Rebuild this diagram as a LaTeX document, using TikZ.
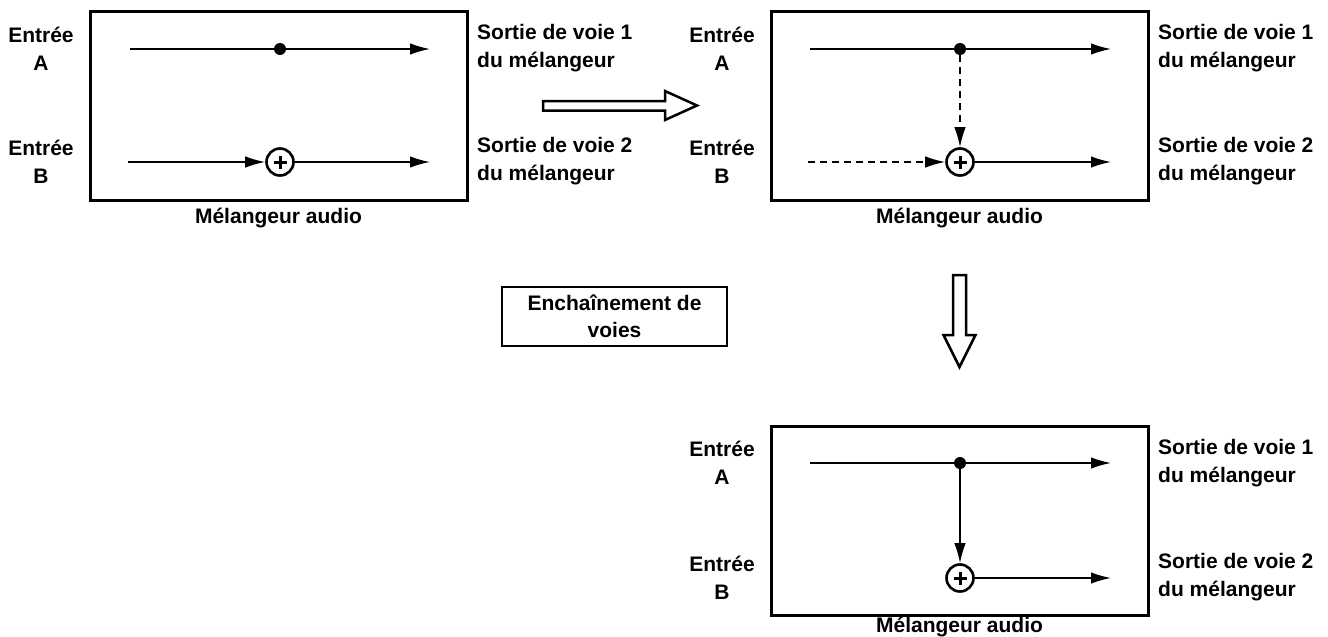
\documentclass[tikz,border=0pt]{standalone}
\usepackage{fontspec}
\setmainfont{Liberation Sans}
\usetikzlibrary{arrows.meta}
\begin{document}
\begin{tikzpicture}[x=1pt,y=-1pt,
  lbl/.style={font=\fontsize{21}{28}\selectfont\bfseries, align=center, inner sep=0pt},
  lblL/.style={font=\fontsize{21}{28}\selectfont\bfseries, align=left, anchor=west, inner sep=0pt},
  mixbox/.style={draw, line width=3pt, minimum width=377pt, minimum height=189pt, inner sep=0pt},
  chainbox/.style={draw, line width=2.5pt, minimum width=225pt, minimum height=59pt, inner sep=0pt,
    font=\fontsize{21}{27}\selectfont\bfseries, align=center},
  sig/.style={line width=1.6pt, -{Latex[length=20pt,width=11.5pt]}},
  dsig/.style={sig, dash pattern=on 7pt off 5pt},
  sumc/.style={circle, draw, line width=2.6pt, minimum size=27pt, inner sep=0pt, fill=white},
  dotn/.style={circle, fill, minimum size=12pt, inner sep=0pt},
  hollow/.style={draw, line width=2.5pt, line join=miter, fill=white},
  plusl/.style={line width=3pt}
]
\useasboundingbox (0,0) rectangle (1328,637);

% ---------- Box 1 ----------
\node[mixbox] (m1) at (278.5,105.5) {};
\node[lbl] (ea1) at (41,48.5) {Entrée\\A};
\node[lbl] (eb1) at (41,161.5) {Entrée\\B};
\node[lblL] (so11) at (477,48.5) {Sortie de voie 1\\du mélangeur};
\node[lblL] (so12) at (477,161.5) {Sortie de voie 2\\du mélangeur};
\node[lbl] (ml1) at (278.5,218) {Mélangeur audio};
\coordinate (a1i) at (130,49);
\coordinate (a1o) at (430,49);
\coordinate (b1i) at (128,162);
\coordinate (b1o) at (430,162);
\draw[sig] (a1i) -- (a1o);
\node[dotn] (d1) at (280,49) {};
\node[sumc] (s1) at (280,162) {};
\draw[plusl] ([xshift=-6.5pt]s1.center) -- ([xshift=6.5pt]s1.center)
             ([yshift=-6.5pt]s1.center) -- ([yshift=6.5pt]s1.center);
\draw[sig] (b1i) -- (s1);
\draw[sig] (s1) -- (b1o);

% ---------- Box 2 ----------
\node[mixbox] (m2) at (959.5,105.5) {};
\node[lbl] (ea2) at (722,48.5) {Entrée\\A};
\node[lbl] (eb2) at (722,161.5) {Entrée\\B};
\node[lblL] (so21) at (1158,48.5) {Sortie de voie 1\\du mélangeur};
\node[lblL] (so22) at (1158,161.5) {Sortie de voie 2\\du mélangeur};
\node[lbl] (ml2) at (959.5,218) {Mélangeur audio};
\coordinate (a2i) at (810,49);
\coordinate (a2o) at (1111,49);
\coordinate (b2i) at (808,162);
\coordinate (b2o) at (1111,162);
\draw[sig] (a2i) -- (a2o);
\node[dotn] (d2) at (960,49) {};
\node[sumc] (s2) at (960,162) {};
\draw[plusl] ([xshift=-6.5pt]s2.center) -- ([xshift=6.5pt]s2.center)
             ([yshift=-6.5pt]s2.center) -- ([yshift=6.5pt]s2.center);
\draw[dsig] (b2i) -- (s2);
\draw[dsig] (d2) -- (s2);
\draw[sig] (s2) -- (b2o);

% ---------- Box 3 ----------
\node[mixbox] (m3) at (959.5,521) {};
\node[lbl] (ea3) at (722,463) {Entrée\\A};
\node[lbl] (eb3) at (722,577.5) {Entrée\\B};
\node[lblL] (so31) at (1158,463) {Sortie de voie 1\\du mélangeur};
\node[lblL] (so32) at (1158,577.5) {Sortie de voie 2\\du mélangeur};
\node[lbl] (ml3) at (959.5,627) {Mélangeur audio};
\coordinate (a3i) at (810,463);
\coordinate (a3o) at (1111,463);
\coordinate (b3o) at (1111,578);
\draw[sig] (a3i) -- (a3o);
\node[dotn] (d3) at (960,463) {};
\node[sumc] (s3) at (960,578) {};
\draw[plusl] ([xshift=-6.5pt]s3.center) -- ([xshift=6.5pt]s3.center)
             ([yshift=-6.5pt]s3.center) -- ([yshift=6.5pt]s3.center);
\draw[sig] (d3) -- (s3);
\draw[sig] (s3) -- (b3o);

% ---------- Chain box ----------
\node[chainbox] (ch) at (614.5,316.5) {Enchaînement de\\voies};

% ---------- Hollow arrows ----------
\draw[hollow] (543,101) -- (665,101) -- (665,91) -- (697,105.5) -- (665,120) -- (665,110.5) -- (543,110.5) -- cycle;
\draw[hollow] (953,275) -- (966,275) -- (966,335) -- (975.5,335) -- (959.5,367) -- (943.5,335) -- (953,335) -- cycle;
\end{tikzpicture}
\end{document}
